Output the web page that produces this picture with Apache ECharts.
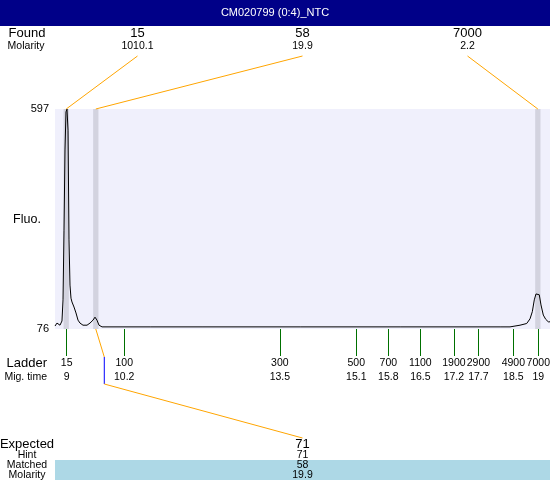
<!DOCTYPE html>
<html><head><meta charset="utf-8">
<script src="https://cdn.jsdelivr.net/npm/echarts@6/dist/echarts.min.js"></script>
<style>html,body{margin:0;padding:0;background:#fff}#c{width:550px;height:480px}</style>
</head><body><div id="c"></div>
<script>
// ---- data ----
const chartTitle = 'CM020799 (0:4)_NTC';
const traceTime = [8.752, 8.794, 8.816, 8.858, 8.900, 8.922, 8.943, 8.964, 8.985, 9.006, 9.028, 9.049, 9.070, 9.091, 9.112, 9.155, 9.197, 9.240, 9.282, 9.346, 9.431, 9.494, 9.558, 9.600, 9.642, 9.685, 9.749, 10.77, 11.89, 11.911, 11.93, 13.95, 16.07, 18.19, 18.40, 18.506, 18.612, 18.754, 18.824, 18.873, 18.915, 18.951, 18.987, 19.021, 19.057, 19.106, 19.157, 19.212, 19.248];
const traceFluo = [83, 90, 88, 85, 95, 145, 310, 500, 590, 597, 547, 287, 180, 149, 140, 128, 114, 97, 90, 85, 85, 90, 97, 104, 97, 85, 81, 81, 81, 78, 81, 81, 81, 81, 81, 83, 85, 89, 100, 117, 145, 159, 162, 157, 133, 109, 99, 93, 93];
const ladderSizes = ['15', '100', '300', '500', '700', '1100', '1900', '2900', '4900', '7000'];
const ladderTimes = [9.0, 10.22, 13.52, 15.14, 15.82, 16.50, 17.21, 17.73, 18.47, 19.0];
const ladderMigLabels = ['9', '10.2', '13.5', '15.1', '15.8', '16.5', '17.2', '17.7', '18.5', '19'];
const foundSizes = ['15', '58', '7000'];
const foundMolarity = ['1010.1', '19.9', '2.2'];
const foundTimes = [8.99, 9.617, 18.99];
const expectedSizes = ['71'];
const hintSizes = ['71'];
const matchedSizes = ['58'];
const matchedMolarity = ['19.9'];
const matchedFoundIndex = [1];
const expectedTimes = [9.797];
const yLabelValues = [76, 597];
const xMin = 8.752, xMax = 19.248, yMin = 76, yMax = 597;

// ---- chart ----
const FONT = '"Liberation Sans", Arial, sans-serif';
const GL = 55, GT = 109, GW = 495, GH = 220;
const chart = echarts.init(document.getElementById('c'), null, {renderer: 'canvas'});
const bandHalf = 0.056;

chart.setOption({
  animation: false,
  textStyle: {fontFamily: FONT},
  grid: {left: GL, top: GT, width: GW, height: GH, show: true, backgroundColor: '#F0F0FC', borderWidth: 0, containLabel: false, outerBoundsMode: 'none'},
  xAxis: {
    type: 'value', min: xMin, max: xMax,
    axisLine: {show: false},
    splitLine: {show: false},
    axisTick: {show: true, customValues: ladderTimes, length: 27, lineStyle: {color: '#007000', width: 1}},
    axisLabel: {
      show: true, customValues: ladderTimes, margin: 27, hideOverlap: false,
      formatter: function (v) {
        let bi = 0, bd = 1e9;
        ladderTimes.forEach((t, i) => { const d = Math.abs(t - v); if (d < bd) { bd = d; bi = i; } });
        return '{a|' + ladderSizes[bi] + '}\n{b|' + ladderMigLabels[bi] + '}';
      },
      rich: {
        a: {fontSize: 10.5, lineHeight: 14, color: '#000', fontFamily: FONT},
        b: {fontSize: 10.5, lineHeight: 14, color: '#000', fontFamily: FONT}
      }
    }
  },
  yAxis: {
    type: 'value', min: yMin, max: yMax,
    axisLine: {show: false}, splitLine: {show: false}, axisTick: {show: false},
    axisLabel: {customValues: yLabelValues, margin: 6, fontSize: 11, color: '#000', fontFamily: FONT,
      formatter: v => (yLabelValues.indexOf(v) >= 0 ? String(v) : '')}
  },
  series: [
    {
      type: 'line', data: [], z: 1, silent: true,
      markArea: {
        silent: true,
        itemStyle: {color: '#D3D3DF'},
        data: foundTimes.map(t => [{xAxis: t - bandHalf}, {xAxis: t + bandHalf}])
      }
    },
    {
      type: 'line', z: 5, showSymbol: false, smooth: false, silent: true,
      lineStyle: {color: '#000', width: 1},
      data: traceTime.map((t, i) => [t, traceFluo[i]])
    }
  ]
});

function px(t, v) { return chart.convertToPixel({gridIndex: 0}, [t, v]); }
function txt(x, y, s, size, align, color) {
  return {type: 'text', x: x, y: y, silent: true, z: 100,
    style: {text: s, fontSize: size, fontFamily: FONT, fill: color || '#000', align: align || 'center', verticalAlign: 'middle'}};
}
function seg(x1, y1, x2, y2, color) {
  return {type: 'line', silent: true, z: 90, shape: {x1: x1, y1: y1, x2: x2, y2: y2}, style: {stroke: color, lineWidth: 1}};
}

const g = [];
g.push({type: 'rect', shape: {x: 0, y: 0, width: 550, height: 26}, style: {fill: '#000088'}, z: 50, silent: true});
g.push(txt(275, 13, chartTitle, 11, 'center', '#fff'));
g.push(txt(27, 33, 'Found', 13));
g.push(txt(26, 46, 'Molarity', 10.5));
const colX = foundSizes.map((s, i) => GL + GW * (i + 0.5) / foundSizes.length);
foundSizes.forEach((s, i) => {
  g.push(txt(colX[i], 33, s, 13));
  g.push(txt(colX[i], 46, foundMolarity[i], 10.5));
  const p = px(foundTimes[i], yMax);
  g.push(seg(colX[i], 56, p[0], p[1], '#FFA500'));
});
g.push(txt(27, 220, 'Fluo.', 12.5));
g.push(txt(47, 363, 'Ladder', 13, 'right'));
g.push(txt(47, 377, 'Mig. time', 10.5, 'right'));
// expected section
g.push({type: 'rect', shape: {x: GL, y: 460, width: GW, height: 20}, style: {fill: '#ADD8E6'}, z: 50, silent: true});
g.push(txt(27, 444, 'Expected', 13));
g.push(txt(27, 455.5, 'Hint', 10.5));
g.push(txt(27, 465.5, 'Matched', 10.5));
g.push(txt(27, 475, 'Molarity', 10.5));
expectedSizes.forEach((s, k) => {
  const fi = matchedFoundIndex[k];
  const cx = colX[fi];
  const pPeak = px(foundTimes[fi], yMin);
  const pExp = px(expectedTimes[k], yMin);
  g.push(seg(pPeak[0], pPeak[1], pExp[0], 357, '#FFA500'));
  g.push(seg(pExp[0], 357, pExp[0], 384, '#0000FF'));
  g.push(seg(pExp[0], 384, cx, 438, '#FFA500'));
  g.push(txt(cx, 444, s, 13));
  g.push(txt(cx, 455.5, hintSizes[k], 10.5));
  g.push(txt(cx, 465.5, matchedSizes[k], 10.5));
  g.push(txt(cx, 475, matchedMolarity[k], 10.5));
});
chart.setOption({graphic: g});
</script>
</body></html>
